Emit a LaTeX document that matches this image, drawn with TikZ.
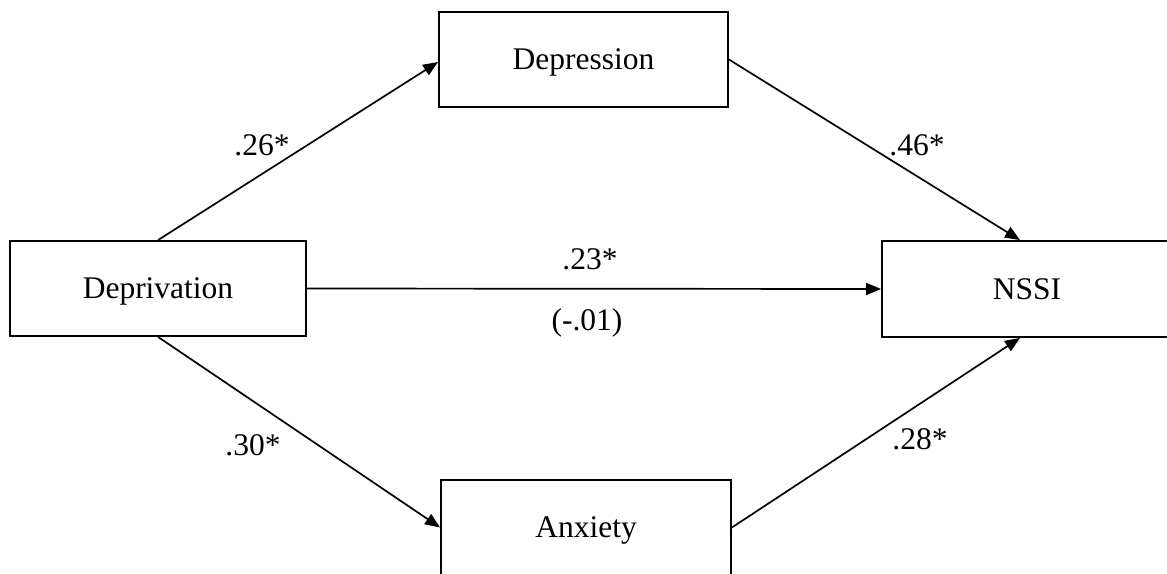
\documentclass[tikz,border=0pt]{standalone}
\usepackage{fontspec}
\setmainfont{Liberation Serif}
\usetikzlibrary{arrows.meta}
\begin{document}
\begin{tikzpicture}[x=1pt,y=-1pt,
  box/.style={draw,line width=1.8pt,rectangle,inner sep=0pt,text depth=0pt,minimum width=290pt,minimum height=95pt,font=\fontsize{31.5}{38}\selectfont},
  conn/.style={line width=1.7pt,-{Triangle[length=15pt,width=12pt]}},
  lab/.style={font=\fontsize{31.5}{38}\selectfont,inner sep=0pt}]
\useasboundingbox (0,0) rectangle (1167,573);
\clip (0,0) rectangle (1167,573);
\fill[white] (0,0) rectangle (1167,573);
\node[box,minimum width=296pt] (dep) at (158,288.5) {Deprivation};
\node[box,minimum width=289pt] (depr) at (583.5,59.5) {Depression};
\node[box] (anx) at (586,527.5) {Anxiety};
\node[box,minimum height=96pt] (nssi) at (1027,289) {NSSI};
\coordinate (nt) at ([xshift=-7pt]nssi.north);
\coordinate (nb) at ([xshift=-7pt]nssi.south);
\draw[conn] (dep.north) -- ([yshift=-2.5pt]depr.west);
\draw[conn] (dep.south) -- (anx.west);
\draw[conn] (dep.east) -- (nssi.west);
\draw[conn] (depr.east) -- (nt);
\draw[conn] (anx.east) -- (nb);
\node[lab] (l26) at (262,145) {.26*};
\node[lab] (l46) at (917,145) {.46*};
\node[lab] (l23) at (590,259) {.23*};
\node[lab] (l01) at (587,323) {(-.01)};
\node[lab] (l30) at (253,445) {.30*};
\node[lab] (l28) at (920,439) {.28*};
\end{tikzpicture}
\end{document}
